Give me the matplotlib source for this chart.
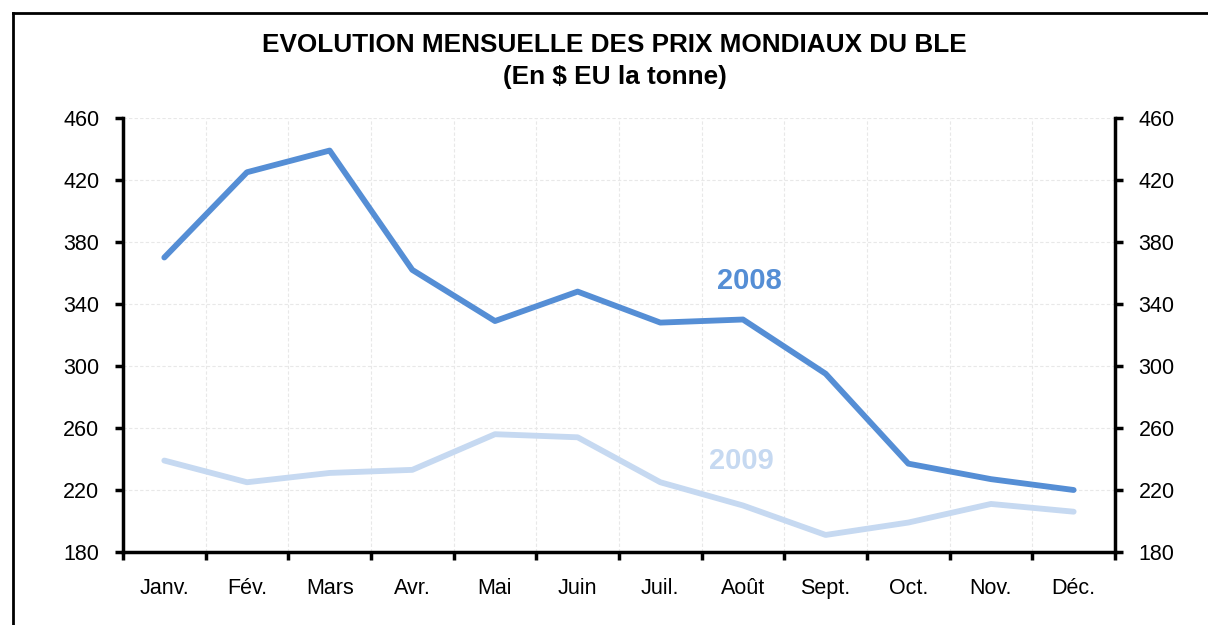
import matplotlib
matplotlib.use("Agg")
import matplotlib.pyplot as plt
from matplotlib.lines import Line2D
import numpy as np

plt.rcParams['font.family'] = ['Liberation Sans', 'DejaVu Sans']

months = ['Janv.', 'Fév.', 'Mars', 'Avr.', 'Mai', 'Juin',
          'Juil.', 'Août', 'Sept.', 'Oct.', 'Nov.', 'Déc.']
prix_2008 = [370, 425, 439, 362, 329, 348, 328, 330, 295, 237, 227, 220]
prix_2009 = [239, 225, 231, 233, 256, 254, 225, 210, 191, 199, 211, 206]
y_ticks = [180, 220, 260, 300, 340, 380, 420, 460]

c2008 = '#558ED5'
c2009 = '#C6D9F1'

fig = plt.figure(figsize=(12.08, 6.25), dpi=100)
ax = fig.add_axes([0.1018, 0.1168, 0.9230 - 0.1018, 0.8112 - 0.1168])

x = np.arange(len(months))
ax.plot(x, prix_2009, color=c2009, lw=4.2, solid_capstyle='round', zorder=3)
ax.plot(x, prix_2008, color=c2008, lw=4.2, solid_capstyle='round', zorder=4)

ax.text(7.08, 355, '2008', color=c2008, fontsize=21, fontweight='bold',
        ha='center', va='center')
ax.text(6.98, 239, '2009', color=c2009, fontsize=21, fontweight='bold',
        ha='center', va='center')

ax.set_xlim(-0.5, len(months) - 0.5)
ax.set_ylim(180, 460)
ax.set_yticks(y_ticks)
ax.set_xticks(x)
ax.set_xticklabels(months)
ax.set_xticks(np.arange(-0.5, len(months)), minor=True)

ax.grid(True, which='minor', axis='x', color='#e8e8e8', lw=0.8, ls=(0, (3, 2)))
ax.grid(True, which='major', axis='y', color='#e8e8e8', lw=0.8, ls=(0, (3, 2)))

ax.spines['top'].set_visible(False)
for s in ['left', 'right', 'bottom']:
    ax.spines[s].set_linewidth(2.5)

ax.tick_params(axis='x', which='major', length=0, pad=19, labelsize=15.5)
ax.tick_params(axis='x', which='minor', length=6, width=2.5, direction='out')
ax.tick_params(axis='y', length=6, width=2.5, direction='out', labelsize=15.5,
               left=True, right=True, labelleft=True, labelright=True, pad=11)

fig.text(0.509, 0.928, 'EVOLUTION MENSUELLE DES PRIX MONDIAUX DU BLE',
         ha='center', va='center', fontsize=18.8, fontweight='bold')
fig.text(0.509, 0.877, '(En $ EU la tonne)',
         ha='center', va='center', fontsize=18.8, fontweight='bold')

# cadre partiel (gauche + haut)
fx = 12.5 / 1208
fy = 1 - 12.5 / 625
fig.add_artist(Line2D([fx, fx], [0, fy], color='black', lw=2))
fig.add_artist(Line2D([fx, 1], [fy, fy], color='black', lw=2))

fig.savefig('out.png', dpi=100, facecolor='white')
